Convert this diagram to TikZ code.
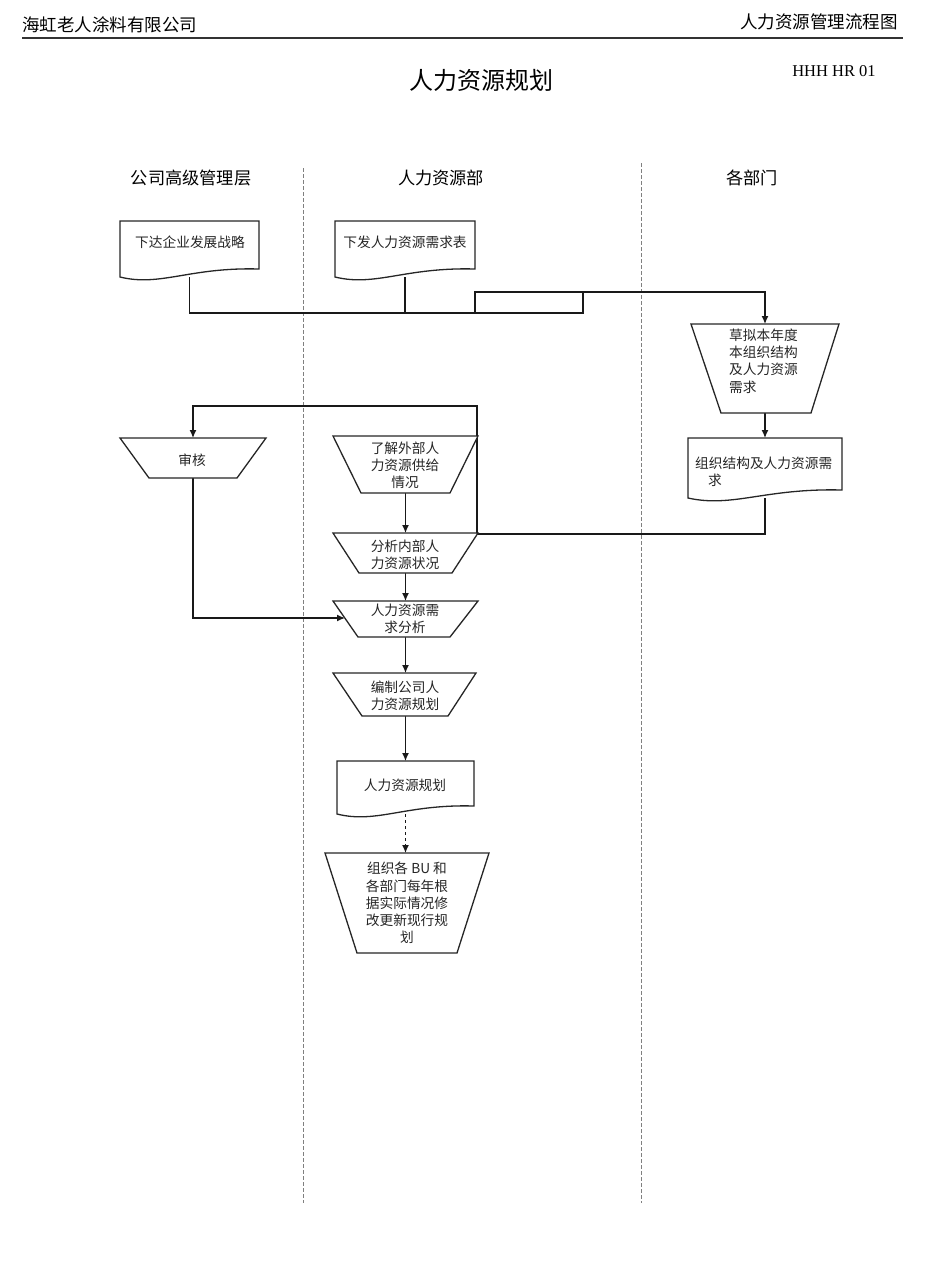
\documentclass[tikz,border=0pt]{standalone}
\usepackage{fontspec}
\newfontfamily\cjk{Noto Sans CJK SC}
\newfontfamily\tms{Liberation Serif}
\usetikzlibrary{arrows.meta,fit}
\newcommand\docpath[4]{%
  \draw[shapeline] (#1,#3) -- (#2,#3) -- (#2,{#4-8})
    .. controls ({#1+0.5*(#2-#1)},{#4-10}) and ({#1+0.29*(#2-#1)},{#4+10}) .. (#1,#4) -- cycle;}
\newcommand\trappath[6]{%
  \draw[shapeline] (#1,#3) -- (#2,#3) -- (#5,#6) -- (#4,#6) -- cycle;}
\tikzset{
  shapeline/.style={draw=black!85, line width=1.3pt, fill=white},
  frame/.style={inner sep=0pt, outer sep=0pt},
  txt/.style={font=\cjk\fontsize{13.7}{17.2}\selectfont, align=center, inner sep=0pt, text=black!85},
  lanehead/.style={font=\cjk\fontsize{17.2}{20}\selectfont, inner sep=0pt},
  pagehead/.style={font=\cjk\fontsize{17.5}{20}\selectfont, inner sep=0pt},
  conn/.style={draw=black!90, line width=1.3pt},
  arr/.style={conn, -{Latex[length=8pt,width=7pt]}},
  lane/.style={draw=black!50, line width=0.6pt, dash pattern=on 4pt off 2pt},
}
\begin{document}
\begin{tikzpicture}[x=1pt,y=-1pt]
\useasboundingbox (0,0) rectangle (950,1267);
% header
\node[pagehead, anchor=west] (hl) at (22,25) {海虹老人涂料有限公司};
\node[pagehead, anchor=east] (hr) at (898,22) {人力资源管理流程图};
\draw[draw=black!80, line width=1.8pt] (22,38) -- (903,38);
\node[font=\cjk\fontsize{24}{28}\selectfont, inner sep=0pt] (title) at (481,80) {人力资源规划};
\node[font=\tms\fontsize{16.5}{18}\selectfont, inner sep=0pt] (code) at (834,71) {HHH HR 01};
% lanes
\node[lanehead] (l1) at (191,178) {公司高级管理层};
\node[lanehead] (l2) at (441,178) {人力资源部};
\node[lanehead] (l3) at (752,178) {各部门};
\draw[lane] (303,168) -- (303,1203);
\draw[lane] (641,163) -- (641,1203);
% frames
\node[frame, fit={(120,221)(259,277)}] (A) {};
\node[frame, fit={(335,221)(475,277)}] (B) {};
\node[frame, fit={(691,324)(839,413)}] (C1) {};
\node[frame, fit={(688,438)(842,498)}] (D1) {};
\node[frame, fit={(120,438)(266,478)}] (SH) {};
\node[frame, fit={(333,436)(478,493)}] (R1) {};
\node[frame, fit={(333,533)(478,573)}] (R2) {};
\node[frame, fit={(333,601)(478,637)}] (R3) {};
\node[frame, fit={(333,673)(478,716)}] (R4) {};
\node[frame, fit={(337,761)(474,814)}] (P) {};
\node[frame, fit={(325,853)(489,953)}] (BU) {};
\coordinate (r3l) at (345,618);
% connectors
\draw[arr] (A.south) |- (583,313) -- (583,292) -| (C1.north);
\draw[conn] (B.south) |- (475,313) -- (475,292) -- (583,292);
\draw[arr] (C1.south) -- (D1.north);
\draw[arr] (D1.south) |- (477,534) -- (477,406) -| (SH.north);
\draw[arr] (SH.south) |- (r3l);
\draw[arr] (R1.south) -- (R2.north);
\draw[arr] (R2.south) -- (R3.north);
\draw[arr] (R3.south) -- (R4.north);
\draw[arr] (R4.south) -- (P.north);
\draw[arr, dashed] (P.south) -- (P.south |- BU.north);
% shapes
\docpath{120}{259}{221}{277}
\docpath{335}{475}{221}{277}
\trappath{691}{839}{324}{721}{811}{413}
\docpath{688}{842}{438}{498}
\trappath{120}{266}{438}{149}{237}{478}
\trappath{333}{478}{436}{361}{450}{493}
\trappath{333}{478}{533}{359}{452}{573}
\trappath{333}{478}{601}{358}{450}{637}
\trappath{333}{476}{673}{362}{448}{716}
\docpath{337}{474}{761}{814}
\trappath{325}{489}{853}{357}{457}{953}
% texts
\node[txt] (tA) at (190,242) {下达企业发展战略};
\node[txt] (tB) at (405,242) {下发人力资源需求表};
\node[txt, align=left, anchor=west] (tC1) at (729,361) {草拟本年度\\本组织结构\\及人力资源\\需求};
\node[txt, align=left, anchor=west] (tD1) at (695,471.5) {组织结构及人力资源需\\\hspace*{13pt}求};
\node[txt] (tSH) at (192,460) {审核};
\node[txt] (tR1) at (405,465) {了解外部人\\力资源供给\\情况};
\node[txt] (tR2) at (405,554.5) {分析内部人\\力资源状况};
\node[txt] (tR3) at (405,619) {人力资源需\\求分析};
\node[txt] (tR4) at (405,695.5) {编制公司人\\力资源规划};
\node[txt] (tP) at (405,785) {人力资源规划};
\node[txt] (tBU) at (407,903) {组织各 BU 和\\各部门每年根\\据实际情况修\\改更新现行规\\划};
\end{tikzpicture}
\end{document}
